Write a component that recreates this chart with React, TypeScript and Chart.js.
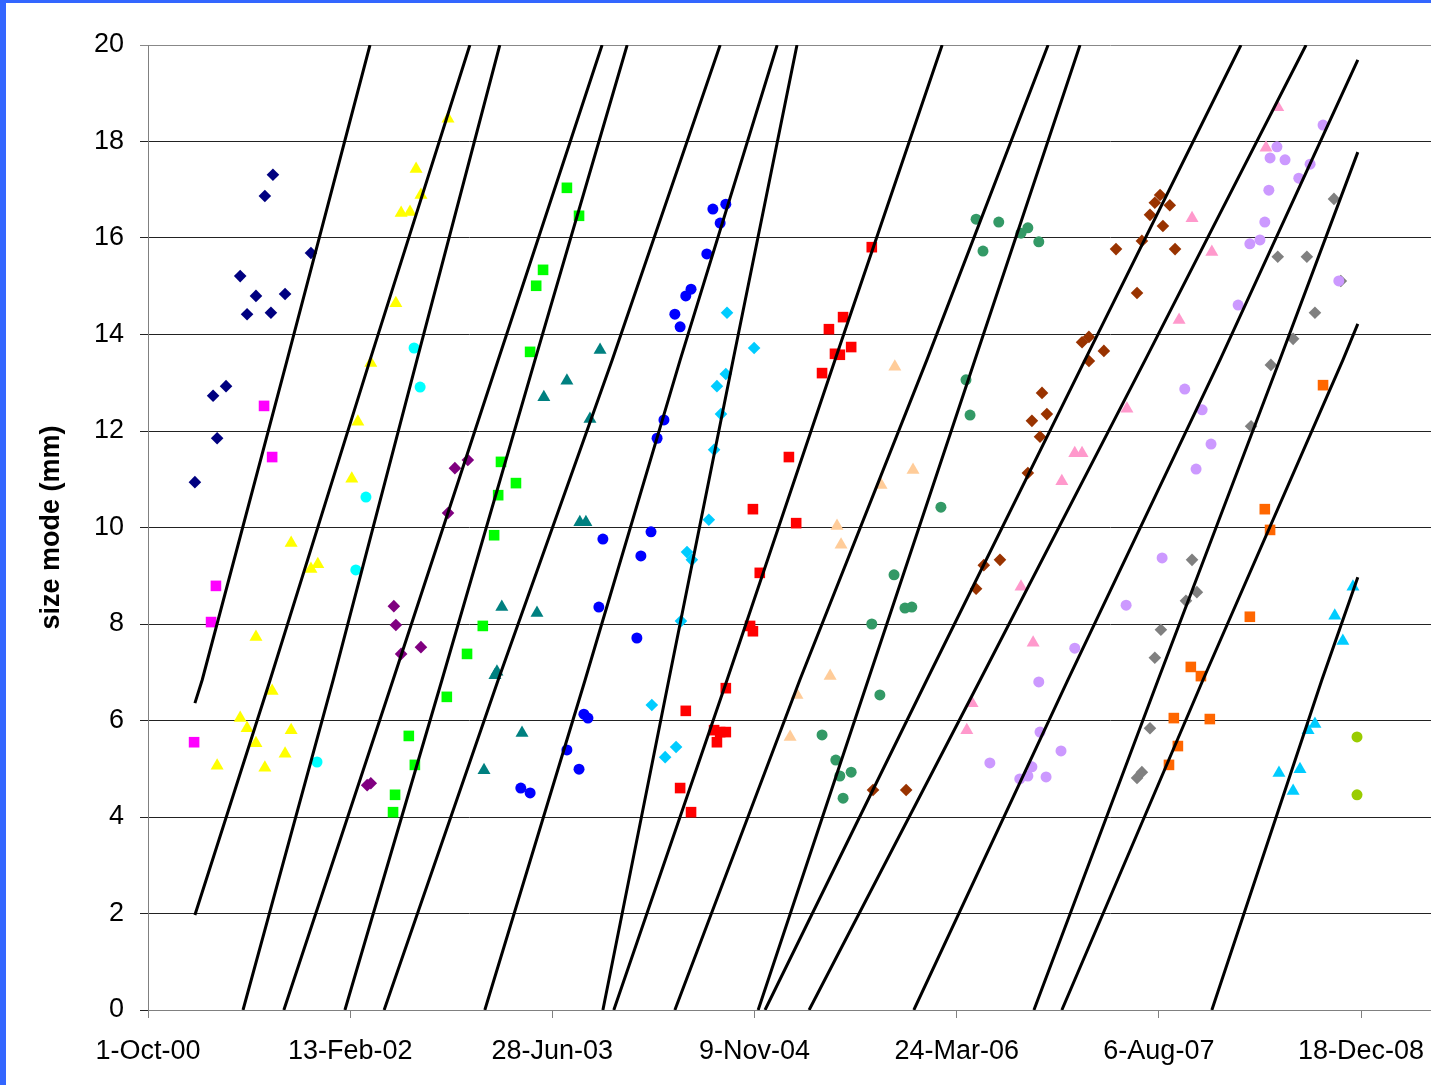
import React, { useEffect, useRef } from 'react';
import { Chart, registerables } from 'chart.js';

Chart.register(...registerables);

// x values are days since 1-Oct-00
const X_MAX = 3173;
const xTickDays = [0, 500, 1000, 1500, 2000, 2500, 3000];
const xTickLabels = ['1-Oct-00', '13-Feb-02', '28-Jun-03', '9-Nov-04', '24-Mar-06', '6-Aug-07', '18-Dec-08'];

type P = [number, number];

const navyDiamonds: P[] = [[116,10.94],[161,12.73],[171,11.85],[193,12.93],[228,15.21],[245,14.42],[267,14.80],[289,16.87],[304,14.45],[309,17.31],[339,14.84],[403,15.69]];
const magentaSquares: P[] = [[114,5.55],[156,8.04],[168,8.79],[287,12.52],[307,11.46]];
const yellowTriangles: P[] = [[171,5.06],[228,6.05],[245,5.84],[267,7.73],[267,5.53],[289,5.02],[307,6.61],[339,5.31],[354,9.68],[354,5.80],[403,9.14],[420,9.24],[504,11.01],[519,12.19],[551,13.41],[613,14.65],[626,16.52],[648,16.54],[663,17.43],[675,16.89],[742,18.47]];
const cyanCircles: P[] = [[418,5.14],[514,9.12],[539,10.63],[658,13.72],[673,12.91]];
const purpleDiamonds: P[] = [[542,4.66],[551,4.70],[608,8.37],[613,7.98],[626,7.38],[675,7.52],[742,10.30],[759,11.23],[791,11.40]];
const limeSquares: P[] = [[606,4.10],[611,4.46],[645,5.68],[660,5.08],[739,6.49],[789,7.38],[828,7.96],[856,9.84],[866,10.67],[873,11.36],[910,10.92],[945,13.64],[960,15.01],[977,15.34],[1036,17.04],[1066,16.46]];
const tealTriangles: P[] = [[831,4.97],[858,6.94],[863,7.01],[875,8.35],[925,5.74],[962,8.23],[979,12.70],[1036,13.04],[1068,10.11],[1083,10.11],[1093,12.25],[1118,13.68]];
const blueCircles: P[] = [[922,4.60],[945,4.50],[1036,5.39],[1066,4.99],[1078,6.13],[1088,6.05],[1115,8.35],[1125,9.76],[1209,7.71],[1219,9.41],[1244,9.91],[1259,11.85],[1276,12.23],[1303,14.42],[1316,14.16],[1330,14.80],[1343,14.94],[1382,15.67],[1397,16.60],[1415,16.31],[1429,16.70]];
const skyDiamonds: P[] = [[1246,6.32],[1279,5.24],[1306,5.45],[1318,8.06],[1333,9.49],[1345,9.33],[1387,10.16],[1400,11.61],[1407,12.93],[1417,12.35],[1429,13.18],[1432,14.45],[1499,13.72]];
const redSquares: P[] = [[1316,4.60],[1343,4.10],[1330,6.20],[1400,5.80],[1407,5.55],[1415,5.76],[1429,5.76],[1429,6.67],[1489,7.96],[1496,7.85],[1496,10.38],[1513,9.06],[1585,11.46],[1603,10.09],[1667,13.20],[1684,14.11],[1699,13.60],[1711,13.58],[1719,14.36],[1739,13.74],[1790,15.81]];
const peachTriangles: P[] = [[1588,5.66],[1605,6.53],[1687,6.92],[1704,10.03],[1714,9.64],[1813,10.88],[1847,13.33],[1892,11.19]];
const greenCircles: P[] = [[1667,5.70],[1701,5.18],[1711,4.85],[1719,4.39],[1739,4.93],[1790,8.00],[1810,6.53],[1845,9.02],[1872,8.33],[1889,8.35],[1961,10.42],[2023,13.06],[2033,12.33],[2048,16.39],[2065,15.73],[2104,16.33],[2159,16.10],[2176,16.21],[2203,15.92]];
const brownDiamonds: P[] = [[1793,4.56],[1875,4.56],[2048,8.73],[2067,9.22],[2107,9.33],[2176,11.13],[2186,12.21],[2206,11.88],[2211,12.79],[2223,12.35],[2310,13.84],[2327,13.95],[2327,13.45],[2364,13.66],[2394,15.77],[2446,14.86],[2458,15.94],[2478,16.48],[2490,16.73],[2503,16.89],[2510,16.25],[2527,16.68],[2540,15.77]];
const pinkTriangles: P[] = [[2025,5.80],[2038,6.36],[2159,8.77],[2189,7.61],[2260,10.96],[2292,11.54],[2310,11.54],[2421,12.46],[2550,14.30],[2582,16.41],[2631,15.71],[2765,17.87],[2794,18.71]];
const lavenderCircles: P[] = [[2082,5.12],[2156,4.79],[2176,4.85],[2186,5.04],[2203,6.80],[2206,5.76],[2221,4.83],[2258,5.37],[2292,7.50],[2419,8.39],[2508,9.37],[2564,12.87],[2592,11.21],[2607,12.44],[2629,11.73],[2696,14.61],[2725,15.88],[2750,15.96],[2762,16.33],[2772,16.99],[2775,17.66],[2792,17.89],[2812,17.62],[2846,17.24],[2874,17.53],[2906,18.34],[2945,15.11]];
const grayDiamonds: P[] = [[2446,4.81],[2458,4.93],[2478,5.84],[2490,7.30],[2505,7.88],[2567,8.48],[2582,9.33],[2594,8.66],[2728,12.10],[2777,13.37],[2794,15.61],[2832,13.91],[2866,15.61],[2886,14.45],[2933,16.81],[2950,15.11]];
const orangeSquares: P[] = [[2525,5.08],[2537,6.05],[2547,5.47],[2579,7.11],[2604,6.92],[2626,6.03],[2725,8.15],[2762,10.38],[2775,9.95],[2906,12.95]];
const skyTriangles: P[] = [[2797,4.91],[2832,4.54],[2849,4.99],[2869,5.80],[2886,5.93],[2935,8.17],[2955,7.65],[2980,8.77]];
const oliveCircles: P[] = [[2990,5.66],[2990,4.46]];

// growth curves (day, size)
const growthCurves: P[][] = [
  [[116,6.36],[134,6.84],[344,13.47],[549,20]],
  [[116,1.97],[302,6.84],[549,13.47],[796,20]],
  [[235,0],[458,6.84],[665,13.47],[870,20]],
  [[336,0],[606,6.84],[866,13.47],[1123,20]],
  [[487,0],[727,6.84],[957,13.47],[1185,20]],
  [[584,0],[866,6.84],[1148,13.47],[1415,20]],
  [[833,0],[1081,6.84],[1316,13.47],[1556,20]],
  [[1125,0],[1288,6.84],[1447,13.47],[1605,20]],
  [[1152,0],[1432,6.84],[1699,13.47],[1964,20]],
  [[1303,0],[1612,6.84],[1926,13.47],[2226,20]],
  [[1509,0],[1781,6.84],[2045,13.47],[2305,20]],
  [[1526,0],[1926,6.84],[2317,13.47],[2703,20]],
  [[1635,0],[2058,6.84],[2466,13.47],[2864,20]],
  [[1894,0],[2275,6.84],[2651,13.47],[2992,19.69]],
  [[2191,0],[2498,6.84],[2799,13.47],[2992,17.78]],
  [[2260,0],[2609,6.84],[2955,13.47],[2992,14.22]],
  [[2631,0],[2903,6.84],[2992,8.97]],
];

const markerSeries: { data: P[]; color: string; shape: string; r: number }[] = [
  { data: navyDiamonds, color: '#000080', shape: 'rectRot', r: 6.3 },
  { data: magentaSquares, color: '#FF00FF', shape: 'rect', r: 7.5 },
  { data: yellowTriangles, color: '#FFFF00', shape: 'triangle', r: 7.5 },
  { data: cyanCircles, color: '#00FFFF', shape: 'circle', r: 5.5 },
  { data: purpleDiamonds, color: '#800080', shape: 'rectRot', r: 6.3 },
  { data: limeSquares, color: '#00FF00', shape: 'rect', r: 7.5 },
  { data: tealTriangles, color: '#008080', shape: 'triangle', r: 7.5 },
  { data: blueCircles, color: '#0000FF', shape: 'circle', r: 5.5 },
  { data: skyDiamonds, color: '#00CCFF', shape: 'rectRot', r: 6.3 },
  { data: redSquares, color: '#FF0000', shape: 'rect', r: 7.5 },
  { data: peachTriangles, color: '#FFCC99', shape: 'triangle', r: 7.5 },
  { data: greenCircles, color: '#339966', shape: 'circle', r: 5.5 },
  { data: brownDiamonds, color: '#993300', shape: 'rectRot', r: 6.3 },
  { data: pinkTriangles, color: '#FF99CC', shape: 'triangle', r: 7.5 },
  { data: lavenderCircles, color: '#CC99FF', shape: 'circle', r: 5.5 },
  { data: grayDiamonds, color: '#808080', shape: 'rectRot', r: 6.3 },
  { data: orangeSquares, color: '#FF6600', shape: 'rect', r: 7.5 },
  { data: skyTriangles, color: '#00CCFF', shape: 'triangle', r: 7.5 },
  { data: oliveCircles, color: '#99CC00', shape: 'circle', r: 5.5 },
];

export default function App() {
  const ref = useRef<HTMLCanvasElement>(null);

  useEffect(() => {
    const font = { family: '"Liberation Sans", Arial, sans-serif', size: 27 };
    const datasets: any[] = [];
    growthCurves.forEach((c) => {
      datasets.push({
        data: c.map(([x, y]) => ({ x, y })),
        showLine: true,
        borderColor: '#000000',
        borderWidth: 3,
        pointRadius: 0,
        pointHoverRadius: 0,
        fill: false,
        tension: 0,
        order: 0,
      });
    });
    markerSeries.forEach((s) => {
      datasets.push({
        data: s.data.map(([x, y]) => ({ x, y })),
        showLine: false,
        pointStyle: s.shape,
        pointRadius: s.r,
        pointHoverRadius: s.r,
        backgroundColor: s.color,
        borderColor: s.color,
        pointBorderWidth: 0,
        borderWidth: 0,
        order: 1,
      });
    });

    const chart = new Chart(ref.current as HTMLCanvasElement, {
      type: 'scatter',
      data: { datasets },
      options: {
        animation: false,
        responsive: false,
        maintainAspectRatio: false,
        events: [],
        layout: { autoPadding: false, padding: { left: 0, top: 45, right: 0, bottom: 0 } },
        plugins: { legend: { display: false }, tooltip: { enabled: false } },
        scales: {
          x: {
            type: 'linear',
            min: 0,
            max: X_MAX,
            afterBuildTicks: (s: any) => {
              s.ticks = xTickDays.map((v) => ({ value: v }));
            },
            afterFit: (s: any) => {
              s.height = 75;
              s.paddingRight = 0;
              s.paddingLeft = 0;
            },
            ticks: {
              autoSkip: false,
              maxRotation: 0,
              font,
              color: '#000000',
              padding: 17,
              callback: (v: any) => {
                const i = xTickDays.indexOf(Number(v));
                return i >= 0 ? xTickLabels[i] : '';
              },
            },
            grid: { drawOnChartArea: false, tickLength: 8, color: '#808080' },
            border: { color: '#808080', width: 1 },
          },
          y: {
            min: 0,
            max: 20,
            afterFit: (s: any) => {
              s.width = 148;
            },
            ticks: { stepSize: 2, font, color: '#000000', padding: 16 },
            grid: {
              color: (ctx: any) => (ctx.tick && ctx.tick.value === 20 ? '#888888' : '#222222'),
              tickLength: 8,
              lineWidth: 1,
            },
            border: { color: '#808080', width: 1 },
            title: {
              display: true,
              text: 'size mode (mm)',
              font: { ...font, weight: 'bold' },
              color: '#000000',
              padding: { top: 35, bottom: 0 },
            },
          },
        },
      } as any,
    });
    return () => chart.destroy();
  }, []);

  return (
    <div style={{ position: 'fixed', left: 0, top: 0, width: 1431, height: 1085, background: '#ffffff', overflow: 'hidden' }}>
      <canvas ref={ref} width={1431} height={1085} style={{ position: 'absolute', left: 0, top: 0, width: 1431, height: 1085 }} />
      <div style={{ position: 'absolute', left: 0, top: 0, width: 6, height: 1085, background: '#3366FF' }} />
      <div style={{ position: 'absolute', left: 0, top: 0, width: 1431, height: 3, background: '#3366FF' }} />
    </div>
  );
}
